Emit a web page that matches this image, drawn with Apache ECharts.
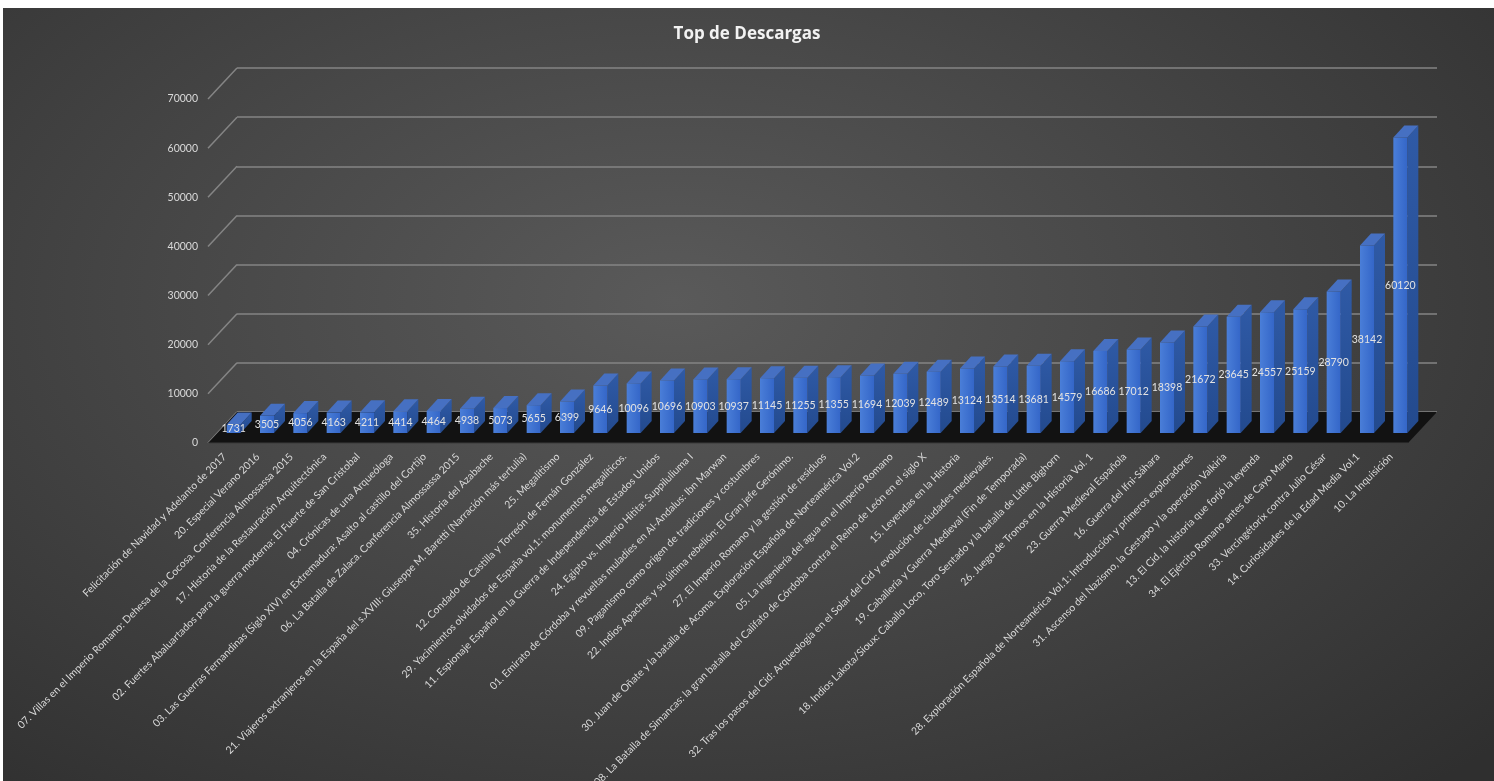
<!DOCTYPE html>
<html><head><meta charset="utf-8">
<script src="https://cdn.jsdelivr.net/npm/echarts@6/dist/echarts.min.js"></script>
<style>
html,body{margin:0;padding:0;background:#fff;width:1494px;height:781px;overflow:hidden;}
#bg{position:absolute;left:3px;top:8px;width:1491px;height:773px;
background:radial-gradient(ellipse 75% 85% at 45% 38%, #5a5a5a 0%, #474747 45%, #2f2f2f 100%);}
#chart{position:absolute;left:0;top:0;width:1494px;height:781px;}
</style></head><body><div id="bg"></div><div id="chart"></div>
<script>
const titleText = 'Top de Descargas';
const categories = [
  'Felicitación de Navidad y Adelanto de 2017',
  '20. Especial Verano 2016',
  '07. Villas en el Imperio Romano: Dehesa de la Cocosa. Conferencia Almossassa 2015',
  '17. Historia de la Restauración Arquitectónica',
  '02. Fuertes Abaluartados para la guerra moderna: El Fuerte de San Cristobal',
  '04. Crónicas de una Arqueóloga',
  '03. Las Guerras Fernandinas (Siglo XIV) en Extremadura: Asalto al castillo del Cortijo',
  '06. La Batalla de Zalaca. Conferencia Almossassa 2015',
  '35. Historia del Azabache',
  '21. Viajeros extranjeros en la España del s.XVIII: Giuseppe M. Baretti (Narración más tertulia)',
  '25. Megalitismo',
  '12. Condado de Castilla y Torreón de Fernán González',
  '29. Yacimientos olvidados de España vol.1: monumentos megalíticos.',
  '11. Espionaje Español en la Guerra de Independencia de Estados Unidos',
  '24. Egipto vs. Imperio Hitita: Suppiluliuma I',
  '01. Emirato de Córdoba y revueltas muladíes en Al-Andalus: Ibn Marwan',
  '09. Paganismo como origen de tradiciones y costumbres',
  '22. Indios Apaches y su última rebelión: El Gran jefe Gerónimo.',
  '27. El Imperio Romano y la gestión de residuos',
  '30. Juan de Oñate y la batalla de Acoma. Exploración Española de Norteamérica Vol.2',
  '05. La ingeniería del agua en el Imperio Romano',
  '08. La Batalla de Simancas: la gran batalla del Califato de Córdoba contra el Reino de León en el siglo X',
  '15. Leyendas en la Historia',
  '32. Tras los pasos del Cid: Arqueología en el Solar del Cid y evolución de ciudades medievales.',
  '19. Caballería y Guerra Medieval (Fin de Temporada)',
  '18. Indios Lakota/Sioux: Caballo Loco, Toro Sentado y la batalla de Little Bighorn',
  '26. Juego de Tronos en la Historia Vol. 1',
  '23. Guerra Medieval Española',
  '16. Guerra del Ifni-Sáhara',
  '28. Exploración Española de Norteamérica Vol.1: Introducción y primeros exploradores',
  '31. Ascenso del Nazismo, la Gestapo y la operación Valkiria',
  '13. El Cid, la historia que forjó la leyenda',
  '34. El Ejército Romano antes de Cayo Mario',
  '33. Vercingétorix contra Julio César',
  '14. Curiosidades de la Edad Media Vol.1',
  '10. La Inquisición'
];
const downloads = [1731, 3505, 4056, 4163, 4211, 4414, 4464, 4938, 5073, 5655, 6399,
  9646, 10096, 10696, 10903, 10937, 11145, 11255, 11355, 11694, 12039, 12489,
  13124, 13514, 13681, 14579, 16686, 17012, 18398, 21672, 23645, 24557, 25159,
  28790, 38142, 60120];
const yTicks = [0, 10000, 20000, 30000, 40000, 50000, 60000, 70000];

const FONT = 'Lato, "Open Sans", sans-serif';
const DEPTH_X = 29, DEPTH_Y = 31;      // wall depth (3D projection)
const BAR_W = 14, BAR_DX = 11, BAR_DY = 12, BAR_SHIFT_X = 9, BAR_SHIFT_Y = 10;

const chart = echarts.init(document.getElementById('chart'), null, {renderer: 'canvas'});
const yMax = yTicks[yTicks.length - 1], yStep = yTicks[1] - yTicks[0];

chart.setOption({
  animation: false,
  backgroundColor: 'transparent',
  title: {
    text: titleText, left: 'center', top: 21,
    textStyle: {color: '#f2f2f2', fontSize: 17, fontWeight: 'bold', fontFamily: '"Open Sans", Lato, sans-serif'}
  },
  grid: [
    {left: 208, right: 86, top: 99, bottom: 338, containLabel: false, outerBoundsMode: 'none'},
    {left: 208 + DEPTH_X, right: 86 - DEPTH_X, top: 99 - DEPTH_Y, bottom: 338 + DEPTH_Y, containLabel: false, outerBoundsMode: 'none'}
  ],
  xAxis: [
    {type: 'category', gridIndex: 0, data: categories,
     axisLine: {show: false}, axisTick: {show: false}, splitLine: {show: false},
     axisLabel: {interval: 0, rotate: 45, margin: 12, color: '#d9d9d9', fontSize: 10.4, fontFamily: FONT}},
    {type: 'category', gridIndex: 1, data: categories, show: false}
  ],
  yAxis: [
    {type: 'value', gridIndex: 0, min: 0, max: yMax, interval: yStep,
     axisLine: {show: false}, axisTick: {show: false}, splitLine: {show: false},
     axisLabel: {margin: 10, color: '#d9d9d9', fontSize: 10.5, fontFamily: FONT,
       formatter: function (v) { return String(v); }}},
    {type: 'value', gridIndex: 1, min: 0, max: yMax, interval: yStep,
     axisLine: {show: false}, axisTick: {show: false}, axisLabel: {show: false},
     splitLine: {show: true, lineStyle: {color: '#858585', width: 1.5}}}
  ],
  series: [
    {
      type: 'custom', name: 'connectors', xAxisIndex: 0, yAxisIndex: 0, silent: true, z: 1,
      data: yTicks.map(v => [0, v]),
      renderItem: function (params, api) {
        const p = api.coord([0, api.value(1)]);
        const bw = api.size([1, 0])[0];
        const x0 = p[0] - bw / 2;
        return {type: 'line', shape: {x1: x0, y1: p[1], x2: x0 + DEPTH_X, y2: p[1] - DEPTH_Y},
          style: {stroke: '#858585', lineWidth: 1.5}};
      }
    },
    {
      type: 'custom', name: 'floor', xAxisIndex: 0, yAxisIndex: 0, silent: true, z: 2,
      data: [[0, 0]],
      renderItem: function (params, api) {
        const n = categories.length;
        const a = api.coord([0, 0]), b = api.coord([n - 1, 0]);
        const bw = api.size([1, 0])[0];
        const xl = a[0] - bw / 2, xr = b[0] + bw / 2, y = a[1];
        return {type: 'group', children: [
          {type: 'polygon', shape: {points: [[xl, y], [xr, y], [xr + DEPTH_X, y - DEPTH_Y], [xl + DEPTH_X, y - DEPTH_Y]]},
           style: {fill: '#121212'}},
          {type: 'line', shape: {x1: xl, y1: y, x2: xr, y2: y}, style: {stroke: '#3a3a3a', lineWidth: 1}}
        ]};
      }
    },
    {
      type: 'custom', name: 'Descargas', xAxisIndex: 0, yAxisIndex: 0, z: 3,
      data: downloads.map((v, i) => [i, v]),
      renderItem: function (params, api) {
        const c = api.coord([api.value(0), api.value(1)]);
        const b = api.coord([api.value(0), 0]);
        const xL = c[0] + BAR_SHIFT_X - BAR_W / 2, xR = xL + BAR_W;
        const yT = c[1] - BAR_SHIFT_Y, yB = b[1] - BAR_SHIFT_Y;
        return {type: 'group', children: [
          {type: 'polygon', shape: {points: [[xR, yT], [xR + BAR_DX, yT - BAR_DY], [xR + BAR_DX, yB - BAR_DY], [xR, yB]]},
           style: {fill: new echarts.graphic.LinearGradient(0, 0, 0, 1, [{offset: 0, color: '#2f5aa6'}, {offset: 1, color: '#234a8e'}])}},
          {type: 'polygon', shape: {points: [[xL, yT], [xR, yT], [xR + BAR_DX, yT - BAR_DY], [xL + BAR_DX, yT - BAR_DY]]},
           style: {fill: '#4670c2'}},
          {type: 'rect', shape: {x: xL, y: yT, width: BAR_W, height: yB - yT},
           style: {fill: new echarts.graphic.LinearGradient(0, 0, 1, 0, [{offset: 0, color: '#4a7ed8'}, {offset: 1, color: '#3466c8'}])}},
          {type: 'text', style: {text: String(api.value(1)), x: xL + BAR_W / 2, y: (yT + yB) / 2,
            align: 'center', verticalAlign: 'middle', textAlign: 'center', textVerticalAlign: 'middle',
            fill: '#e2e2e2', fontSize: 10.5, fontFamily: FONT}}
        ]};
      }
    }
  ]
});
</script></body></html>
